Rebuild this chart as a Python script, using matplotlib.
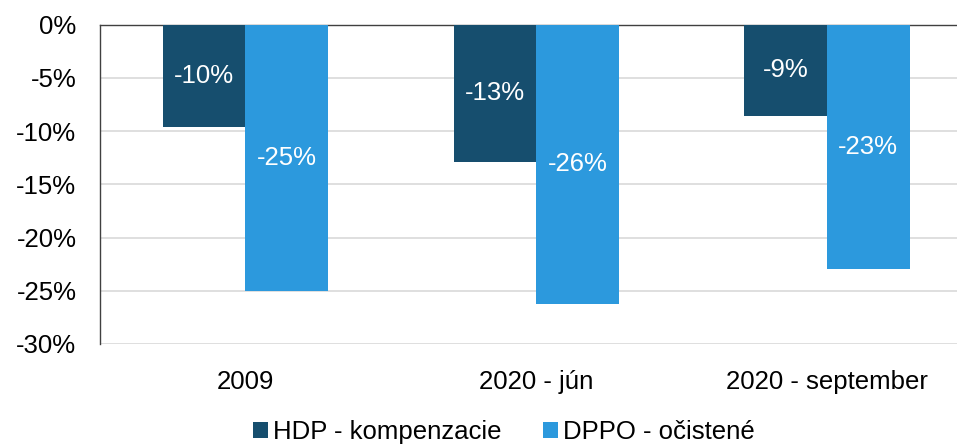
import matplotlib
matplotlib.use("Agg")
import matplotlib.pyplot as plt
import numpy as np

categories = ["2009", "2020 - jún", "2020 - september"]
series_names = ["HDP - kompenzacie", "DPPO - očistené"]
hdp = [-9.6, -12.9, -8.6]
dppo = [-25.0, -26.2, -23.0]
hdp_labels = ["-10%", "-13%", "-9%"]
dppo_labels = ["-25%", "-26%", "-23%"]
yticks = [0, -5, -10, -15, -20, -25, -30]

c_dark = "#164E6E"
c_light = "#2C99DD"
fs = 18.5

plt.rcParams['font.family'] = ['Liberation Sans', 'DejaVu Sans']

fig = plt.figure(figsize=(9.57, 4.45), dpi=100)
ax = fig.add_axes([0.1045, 0.227, 0.8955, 0.7175])

x = np.arange(len(categories))
w = 0.284
b1 = ax.bar(x - w/2, hdp, w, color=c_dark, label=series_names[0], zorder=3)
b2 = ax.bar(x + w/2, dppo, w, color=c_light, label=series_names[1], zorder=3)

for rect, lab in zip(b1, hdp_labels):
    ax.text(rect.get_x() + rect.get_width()/2, rect.get_height()/2, lab,
            ha='center', va='center', color='white', fontsize=fs, zorder=4)
for rect, lab in zip(b2, dppo_labels):
    ax.text(rect.get_x() + rect.get_width()/2, rect.get_height()/2, lab,
            ha='center', va='center', color='white', fontsize=fs, zorder=4)

ax.set_ylim(-30, 0)
ax.set_xlim(-0.5, 2.447)
ax.set_yticks(yticks)
ax.set_yticklabels([f"{v}%" for v in yticks])
ax.set_xticks(x)
ax.set_xticklabels(categories)
ax.tick_params(axis='y', length=0, pad=17, labelsize=fs)
ax.tick_params(axis='x', length=0, pad=19, labelsize=fs)
ax.yaxis.grid(True, color="#D9D9D9", linewidth=1.2, zorder=0)
ax.set_axisbelow(True)
for s in ['right', 'bottom']:
    ax.spines[s].set_visible(False)
ax.spines['left'].set_color('#404040')
ax.spines['top'].set_color('#404040')
ax.spines['left'].set_linewidth(1.0)
ax.spines['top'].set_linewidth(1.0)

fig.legend(handles=[b1, b2], labels=series_names, loc='center',
           bbox_to_anchor=(504/957, 1 - 432/445), ncol=2, frameon=False,
           fontsize=fs, handlelength=0.6, handleheight=0.6, handletextpad=0.2,
           columnspacing=1.6)

fig.savefig("out.png", dpi=100)
